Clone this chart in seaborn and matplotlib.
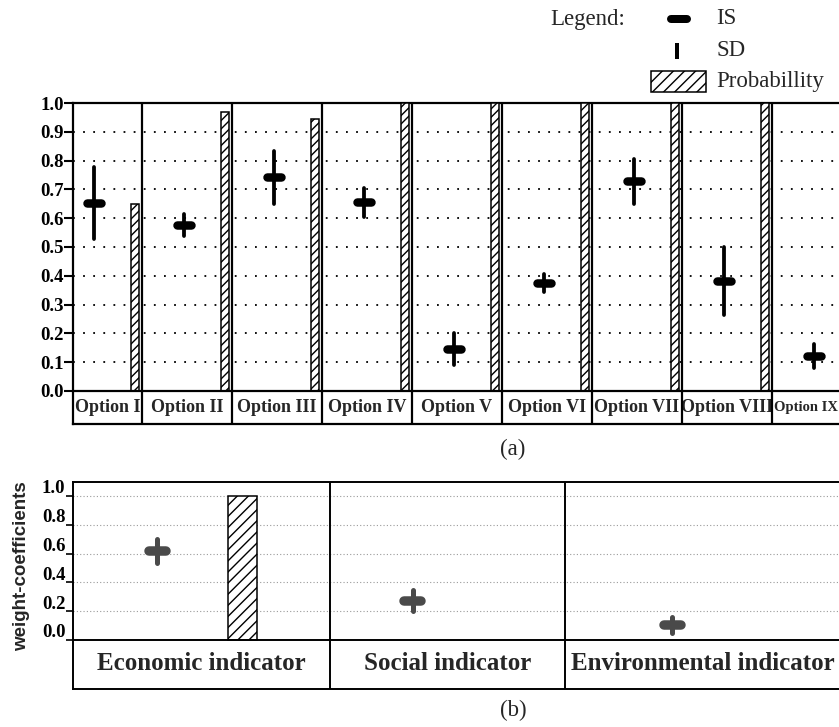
import numpy as np
import pandas as pd
import matplotlib
matplotlib.use("Agg")
import matplotlib.pyplot as plt
import seaborn as sns
from matplotlib.lines import Line2D
from matplotlib.patches import Rectangle
from matplotlib.transforms import ScaledTranslation

# ---- panel (a): options ----
options = ["Option I", "Option II", "Option III", "Option IV", "Option V",
           "Option VI", "Option VII", "Option VIII", "Option IX"]
option_is = [0.653, 0.577, 0.742, 0.655, 0.146, 0.375, 0.729, 0.382, 0.122]
option_sd = [0.125, 0.038, 0.092, 0.050, 0.054, 0.032, 0.078, 0.118, 0.042]
option_prob = [0.65, 0.97, 0.945, 1.0, 1.0, 1.0, 1.0, 1.0, 1.0]
top_ticks = [0.0, 0.1, 0.2, 0.3, 0.4, 0.5, 0.6, 0.7, 0.8, 0.9, 1.0]

# ---- panel (b): indicators ----
indicators = ["Economic indicator", "Social indicator", "Environmental indicator"]
indicator_is = [0.618, 0.272, 0.104]
indicator_sd = [0.085, 0.073, 0.056]
indicator_prob = [1.0, np.nan, np.nan]
bottom_ticks = [0.0, 0.2, 0.4, 0.6, 0.8, 1.0]

sns.set_theme(style="white")
plt.rcParams["font.family"] = ["Liberation Serif", "DejaVu Serif"]
plt.rcParams["hatch.linewidth"] = 1.0
plt.rcParams["hatch.color"] = "black"

W, H = 839, 727
fig = plt.figure(figsize=(W / 100, H / 100), dpi=100)
fig.patch.set_facecolor("white")


def px_axes(left, top, right, bottom):
    return fig.add_axes([left / W, 1 - bottom / H, (right - left) / W, (bottom - top) / H])


def pt(px):
    return px * 72 / 100


# ================= panel (a) =================
ax = px_axes(73, 103, 862, 424)
n = len(options)
idx = np.arange(n)

bars_a = pd.DataFrame({"pos": idx + 0.42, "prob": option_prob})
sns.barplot(data=bars_a, x="pos", y="prob", native_scale=True, width=0.09,
            color="white", edgecolor="black", linewidth=1.1, hatch="////",
            errorbar=None, ax=ax, zorder=3)
for p in ax.patches:
    p.set_facecolor("white")

mx = idx - 0.03
is_a = np.array(option_is)
sd_a = np.array(option_sd)
ax.vlines(mx, is_a - sd_a, is_a + sd_a, color="black", lw=pt(3.8),
          capstyle="round", zorder=4)
ax.hlines(is_a, mx - 0.078, mx + 0.078, color="black", lw=pt(8.5),
          capstyle="round", zorder=4)

ax.set_xlim(-0.267, n - 0.5)
ax.set_ylim(-0.1146, 1.0)
ax.set_yticks(top_ticks)
ax.set_yticklabels([f"{t:.1f}" for t in top_ticks], fontweight="bold", fontsize=13.5)
ax.set_xticks([])
ax.set_xlabel("")
ax.set_ylabel("")
ax.tick_params(axis="y", left=True, direction="out", length=pt(9), width=1.5,
               pad=0.0, colors="black")
ax.grid(False)
for t in top_ticks[1:-1]:
    ax.axhline(t, color="black", lw=1.3, ls=(0, (1, 4.6)), zorder=1)
for i in range(n - 1):
    ax.axvline(i + 0.5, color="black", lw=1.6, zorder=5)
ax.axhline(0, color="black", lw=1.6, zorder=5)
for s in ["top", "left", "bottom"]:
    ax.spines[s].set_visible(True)
    ax.spines[s].set_color("black")
    ax.spines[s].set_linewidth(1.6)
ax.spines["right"].set_visible(False)

for i, lab in enumerate(options):
    if i == 0:
        ax.text((-0.267 + 0.5) / 2, -0.057, lab, ha="center", va="center",
                fontweight="bold", fontsize=13)
    elif i == n - 1:
        ax.text(i - 0.475, -0.057, lab, ha="left", va="center",
                fontweight="bold", fontsize=10.5)
    else:
        ax.text(i, -0.057, lab, ha="center", va="center",
                fontweight="bold", fontsize=13)

# ================= panel (b) =================
bx = px_axes(73, 482, 843, 689)
col_edges = [0.0, 2.57, 4.92, 7.68]
col_left = np.array(col_edges[:-1])
col_width = np.diff(col_edges)
mark_frac = np.array([0.327, 0.353, 0.388])
bar_frac = 0.66

bars_b = pd.DataFrame({"pos": col_left + bar_frac * col_width, "prob": indicator_prob})
bars_b = bars_b.dropna()
sns.barplot(data=bars_b, x="pos", y="prob", native_scale=True, width=0.29,
            color="white", edgecolor="black", linewidth=1.1, hatch="///",
            errorbar=None, ax=bx, zorder=3)
for p in bx.patches:
    p.set_facecolor("white")

bmx = col_left + mark_frac * col_width
is_b = np.array(indicator_is)
sd_b = np.array(indicator_sd)
mark_col = "#4a4a4a"
bx.vlines(bmx, is_b - sd_b, is_b + sd_b, color=mark_col, lw=pt(5),
          capstyle="round", zorder=4)
bx.hlines(is_b, bmx - 0.085, bmx + 0.085, color=mark_col, lw=pt(9.5),
          capstyle="round", zorder=4)

bx.set_xlim(0, 7.70)
bx.set_ylim(-0.3403, 1.0972)
bx.set_yticks(bottom_ticks)
bx.set_yticklabels([f"{t:.1f}" for t in bottom_ticks], fontweight="bold", fontsize=13.5)
bx.set_xticks([])
bx.set_xlabel("")
bx.set_ylabel("")
bx.tick_params(axis="y", left=True, direction="out", length=pt(7), width=1.2,
               pad=0.5, colors="black")
shift = ScaledTranslation(0, 9 / 100, fig.dpi_scale_trans)
for lab in bx.get_yticklabels():
    lab.set_transform(lab.get_transform() + shift)
bx.grid(False)
for t in bottom_ticks[1:]:
    bx.axhline(t, color="#9a9a9a", lw=0.8, ls=(0, (1, 2)), zorder=1)
for e in col_edges[1:-1]:
    bx.axvline(e, color="black", lw=1.4, zorder=5)
bx.axhline(0, color="black", lw=1.4, zorder=5)
for s in ["top", "left", "bottom", "right"]:
    bx.spines[s].set_visible(True)
    bx.spines[s].set_color("black")
    bx.spines[s].set_linewidth(1.4)

for i, lab in enumerate(indicators):
    bx.text(col_left[i] + col_width[i] / 2, -0.16, lab, ha="center", va="center",
            fontweight="bold", fontsize=18)

fig.text(22 / W, 1 - 566 / H, "weight-coefficients", rotation=90, ha="center",
         va="center", fontweight="bold", fontsize=13.5,
         family=["Liberation Sans", "DejaVu Sans"])

# ---- captions ----
fig.text(513 / W, 1 - 449 / H, "(a)", ha="center", va="center", fontsize=16.5)
fig.text(513 / W, 1 - 710 / H, "(b)", ha="center", va="center", fontsize=16.5)

# ---- legend ----
fig.text(550 / W, 1 - 19 / H, "Legend:", ha="left", va="center", fontsize=16.5)
fig.add_artist(Line2D([671 / W, 687 / W], [1 - 19 / H, 1 - 19 / H], color="black",
                      lw=pt(8), solid_capstyle="round", transform=fig.transFigure))
fig.add_artist(Line2D([677 / W, 677 / W], [1 - 43 / H, 1 - 59 / H], color="black",
                      lw=pt(4), solid_capstyle="butt", transform=fig.transFigure))
fig.add_artist(Rectangle((651 / W, 1 - 92 / H), 55 / W, 21 / H, facecolor="white",
                         edgecolor="black", lw=1.1, hatch="///",
                         transform=fig.transFigure))
fig.text(716 / W, 1 - 19 / H, "IS", ha="left", va="center", fontsize=16.5)
fig.text(716 / W, 1 - 51 / H, "SD", ha="left", va="center", fontsize=16.5)
fig.text(716 / W, 1 - 82 / H, "Probabillity", ha="left", va="center", fontsize=16.5)

fig.savefig("out.png", dpi=100, facecolor="white")
